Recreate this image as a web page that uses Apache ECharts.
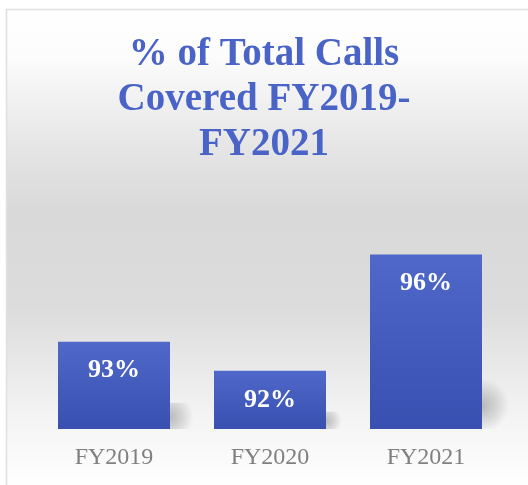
<!DOCTYPE html>
<html><head><meta charset="utf-8">
<script src="https://cdn.jsdelivr.net/npm/echarts@6/dist/echarts.min.js"></script>
<style>html,body{margin:0;padding:0;background:#fff}#c{width:528px;height:485px}</style>
</head><body><div id="c"></div>
<script>
const categories = ['FY2019', 'FY2020', 'FY2021'];
const coveredPct = [93, 92, 96];
const titleText = '% of Total Calls\nCovered FY2019-\nFY2021';

const chart = echarts.init(document.getElementById('c'), null, {renderer: 'canvas'});
const serif = '"Liberation Serif", "DejaVu Serif", serif';
const Y_MIN = 90;
chart.setOption({
  animation: false,
  graphic: [{
    type: 'rect', z: -10, silent: true,
    shape: {x: 6.5, y: 9.5, width: 530, height: 480},
    style: {
      stroke: '#e0e0e0', lineWidth: 1.5,
      fill: new echarts.graphic.LinearGradient(0, 0, 0, 1, [
        {offset: 0, color: '#ffffff'},
        {offset: 0.1, color: '#fcfcfc'},
        {offset: 0.28, color: '#e6e6e6'},
        {offset: 0.42, color: '#d9d9d9'},
        {offset: 0.62, color: '#dcdcdc'},
        {offset: 0.85, color: '#f4f4f4'},
        {offset: 1, color: '#ffffff'}
      ])
    }
  }],
  title: {
    text: titleText,
    left: 'center', top: 27,
    textStyle: {fontFamily: serif, fontWeight: 'bold', fontSize: 39, lineHeight: 45, color: '#4a63c6'}
  },
  grid: {left: 36, right: 24, top: 138, bottom: 56},
  xAxis: {
    type: 'category', data: categories,
    axisLine: {show: false}, axisTick: {show: false},
    axisLabel: {fontFamily: serif, fontSize: 24, color: '#808080', margin: 17}
  },
  yAxis: {
    type: 'value', min: Y_MIN, max: 100, interval: 2,
    show: false, splitLine: {show: false}
  },
  series: [{
    type: 'custom', z: 1, silent: true,
    data: coveredPct,
    renderItem: function (params, api) {
      const top = api.coord([api.value(0), api.value(1)]);
      const base = api.coord([api.value(0), Y_MIN]);
      const half = 56;
      const h = (base[1] - top[1]) * 0.3;
      return {
        type: 'rect',
        shape: {x: top[0] + half, y: base[1] - h, width: 30, height: h},
        style: {
          fill: new echarts.graphic.RadialGradient(0, 0.55, 0.9, [
            {offset: 0, color: 'rgba(0,0,0,0.24)'},
            {offset: 0.5, color: 'rgba(0,0,0,0.13)'},
            {offset: 1, color: 'rgba(0,0,0,0)'}
          ])
        }
      };
    },
    encode: {x: 0, y: 1}
  }, {
    type: 'bar', data: coveredPct, barWidth: 112, z: 2, barGap: '-100%',
    itemStyle: {
      color: new echarts.graphic.LinearGradient(0, 0, 0, 1, [
        {offset: 0, color: '#4f68c9'},
        {offset: 1, color: '#3850b0'}
      ])
    },
    label: {
      show: true, position: 'insideTop', distance: 16,
      formatter: '{c}%', color: '#ffffff',
      fontFamily: serif, fontWeight: 'bold', fontSize: 26
    }
  }]
});
</script></body></html>
